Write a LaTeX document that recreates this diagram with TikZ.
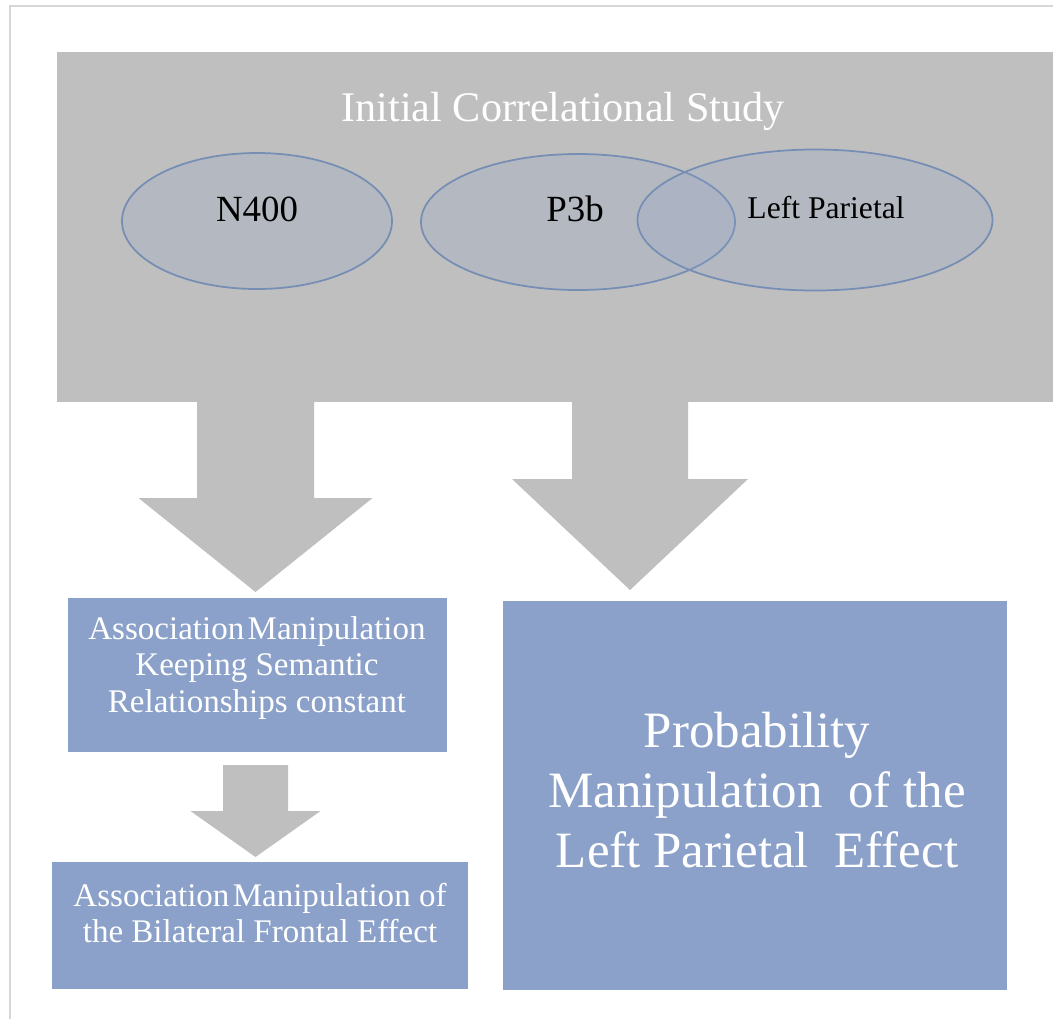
\documentclass[tikz,border=0pt]{standalone}
\usepackage{fontspec}
\setmainfont{Liberation Serif}
\usetikzlibrary{shapes.geometric}

\definecolor{studygrey}{RGB}{191,191,191}
\definecolor{boxblue}{RGB}{139,161,201}
\definecolor{ellblue}{RGB}{140,162,203}
\definecolor{ellline}{RGB}{118,142,180}
\definecolor{framegrey}{RGB}{215,215,215}

\begin{document}
\begin{tikzpicture}[x=0.02cm,y=-0.02cm,
	ell/.style={ellipse,draw=ellline,line width=1pt,fill=ellblue,fill opacity=0.2,inner sep=0pt},
	elltxt/.style={text=black,font=\fontsize{21}{24}\selectfont},
	boxtxt/.style={text=white,align=center,font=\fontsize{18.8}{21}\selectfont},
]

\useasboundingbox (0,0) rectangle (1053,1019);
\fill[white] (0,0) rectangle (1053,1019);
\draw[framegrey,line width=0.6pt] (10,1019) -- (10,6) -- (1053,6);

% correlational study
\fill[studygrey] (57,52) rectangle (1053,402);
\node[text=white,font=\fontsize{24}{28}\selectfont] (title) at (563,111) {Initial Correlational Study};

\foreach \nm/\cx/\cy/\w/\h in {n400/257/221/270/136, p3b/578/222/314/136, lpar/815/220/355/141} {
	\node[ell,minimum width=\w*0.02cm,minimum height=\h*0.02cm] (\nm) at (\cx,\cy) {};
}
\node[elltxt] (tn400) at (257,209) {N400};
\node[elltxt] (tp3b) at (575,209) {P3b};
\node[elltxt,font=\fontsize{18}{21}\selectfont] (tlpar) at (826,208) {Left Parietal};

% block arrows
\foreach \cx/\ya/\sw/\hw/\yh/\yt in {255.5/402/58.5/117/498/592, 630/402/58/118/479/590, 255.5/765/32.5/65/811/857} {
	\fill[studygrey] (\cx-\sw,\ya) -- (\cx+\sw,\ya) -- (\cx+\sw,\yh) -- (\cx+\hw,\yh)
		-- (\cx,\yt) -- (\cx-\hw,\yh) -- (\cx-\sw,\yh) -- cycle;
}

% manipulations
\fill[boxblue] (68,598) rectangle (447,752);
\fill[boxblue] (52,862) rectangle (468,989);
\fill[boxblue] (503,601) rectangle (1007,990);

\node[boxtxt] (assoc) at (257,668) {Association\hspace{0.1em}Manipulation\\Keeping Semantic\\Relationships constant};
\node[boxtxt] (front) at (260,913) {Association\hspace{0.1em}Manipulation of\\the Bilateral Frontal Effect};
\node[boxtxt,font=\fontsize{29}{34}\selectfont] (prob) at (757,790) {Probability\\Manipulation\ \ of the\\Left Parietal\ \ Effect};

\end{tikzpicture}
\end{document}
